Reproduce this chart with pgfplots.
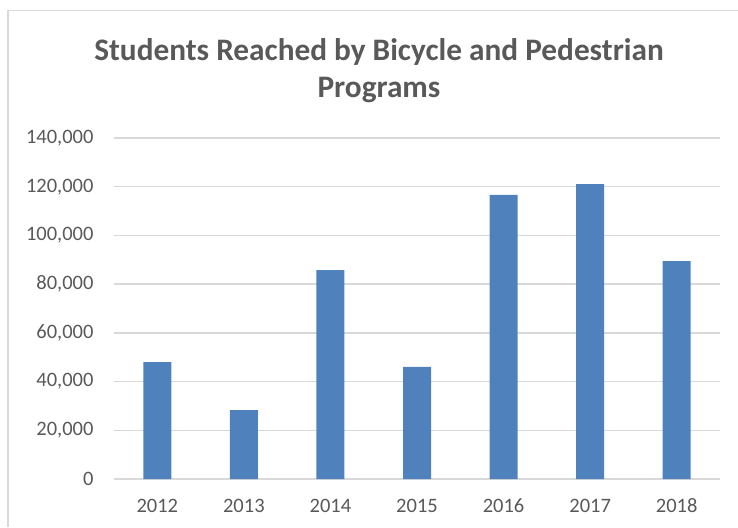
\documentclass[border=0pt]{standalone}
\usepackage{fontspec}
\setmainfont{Carlito}
\usepackage{pgfplots}
\pgfplotsset{compat=1.18}
\definecolor{barblue}{HTML}{4F81BD}
\definecolor{txtgray}{HTML}{595959}
\definecolor{gridgray}{HTML}{D9D9D9}
\begin{document}
\begin{tikzpicture}[x=1pt,y=1pt]
\useasboundingbox (0,0) rectangle (738,527);
% chart area border (cut off at the right and bottom)
\draw[gridgray, line width=1.5pt] (8,0) -- (8,516.5) -- (738,516.5);
\node[anchor=north, align=center, inner sep=0pt, text=txtgray,
      font=\fontsize{31.3}{37}\selectfont\bfseries] at (379,488.5)
  {Students Reached by Bicycle and Pedestrian\\Programs};
\begin{axis}[
    at={(114pt,48pt)}, anchor=south west,
    scale only axis,
    width=606pt, height=341pt,
    ybar,
    bar width=28pt,
    xmin=-0.5, xmax=6.5,
    ymin=0, ymax=140000,
    ytick distance=20000,
    xtick=data,
    xticklabels={2012,2013,2014,2015,2016,2017,2018},
    scaled y ticks=false,
    /pgf/number format/.cd, fixed, 1000 sep={,}, assume math mode=true,
    /pgfplots/.cd,
    ymajorgrids,
    grid style={gridgray, line width=1.5pt},
    axis line style={draw=none},
    major tick length=0pt,
    ticklabel style={font=\fontsize{20.5}{24}\selectfont, text=txtgray},
    yticklabel style={anchor=east, xshift=-17pt},
    xticklabel style={anchor=base, yshift=-33pt},
]
\addplot[fill=barblue, draw=none] coordinates {
    (0,48000) (1,28300) (2,85800) (3,46000) (4,116600) (5,121100) (6,89500)};
\end{axis}
\end{tikzpicture}
\end{document}
